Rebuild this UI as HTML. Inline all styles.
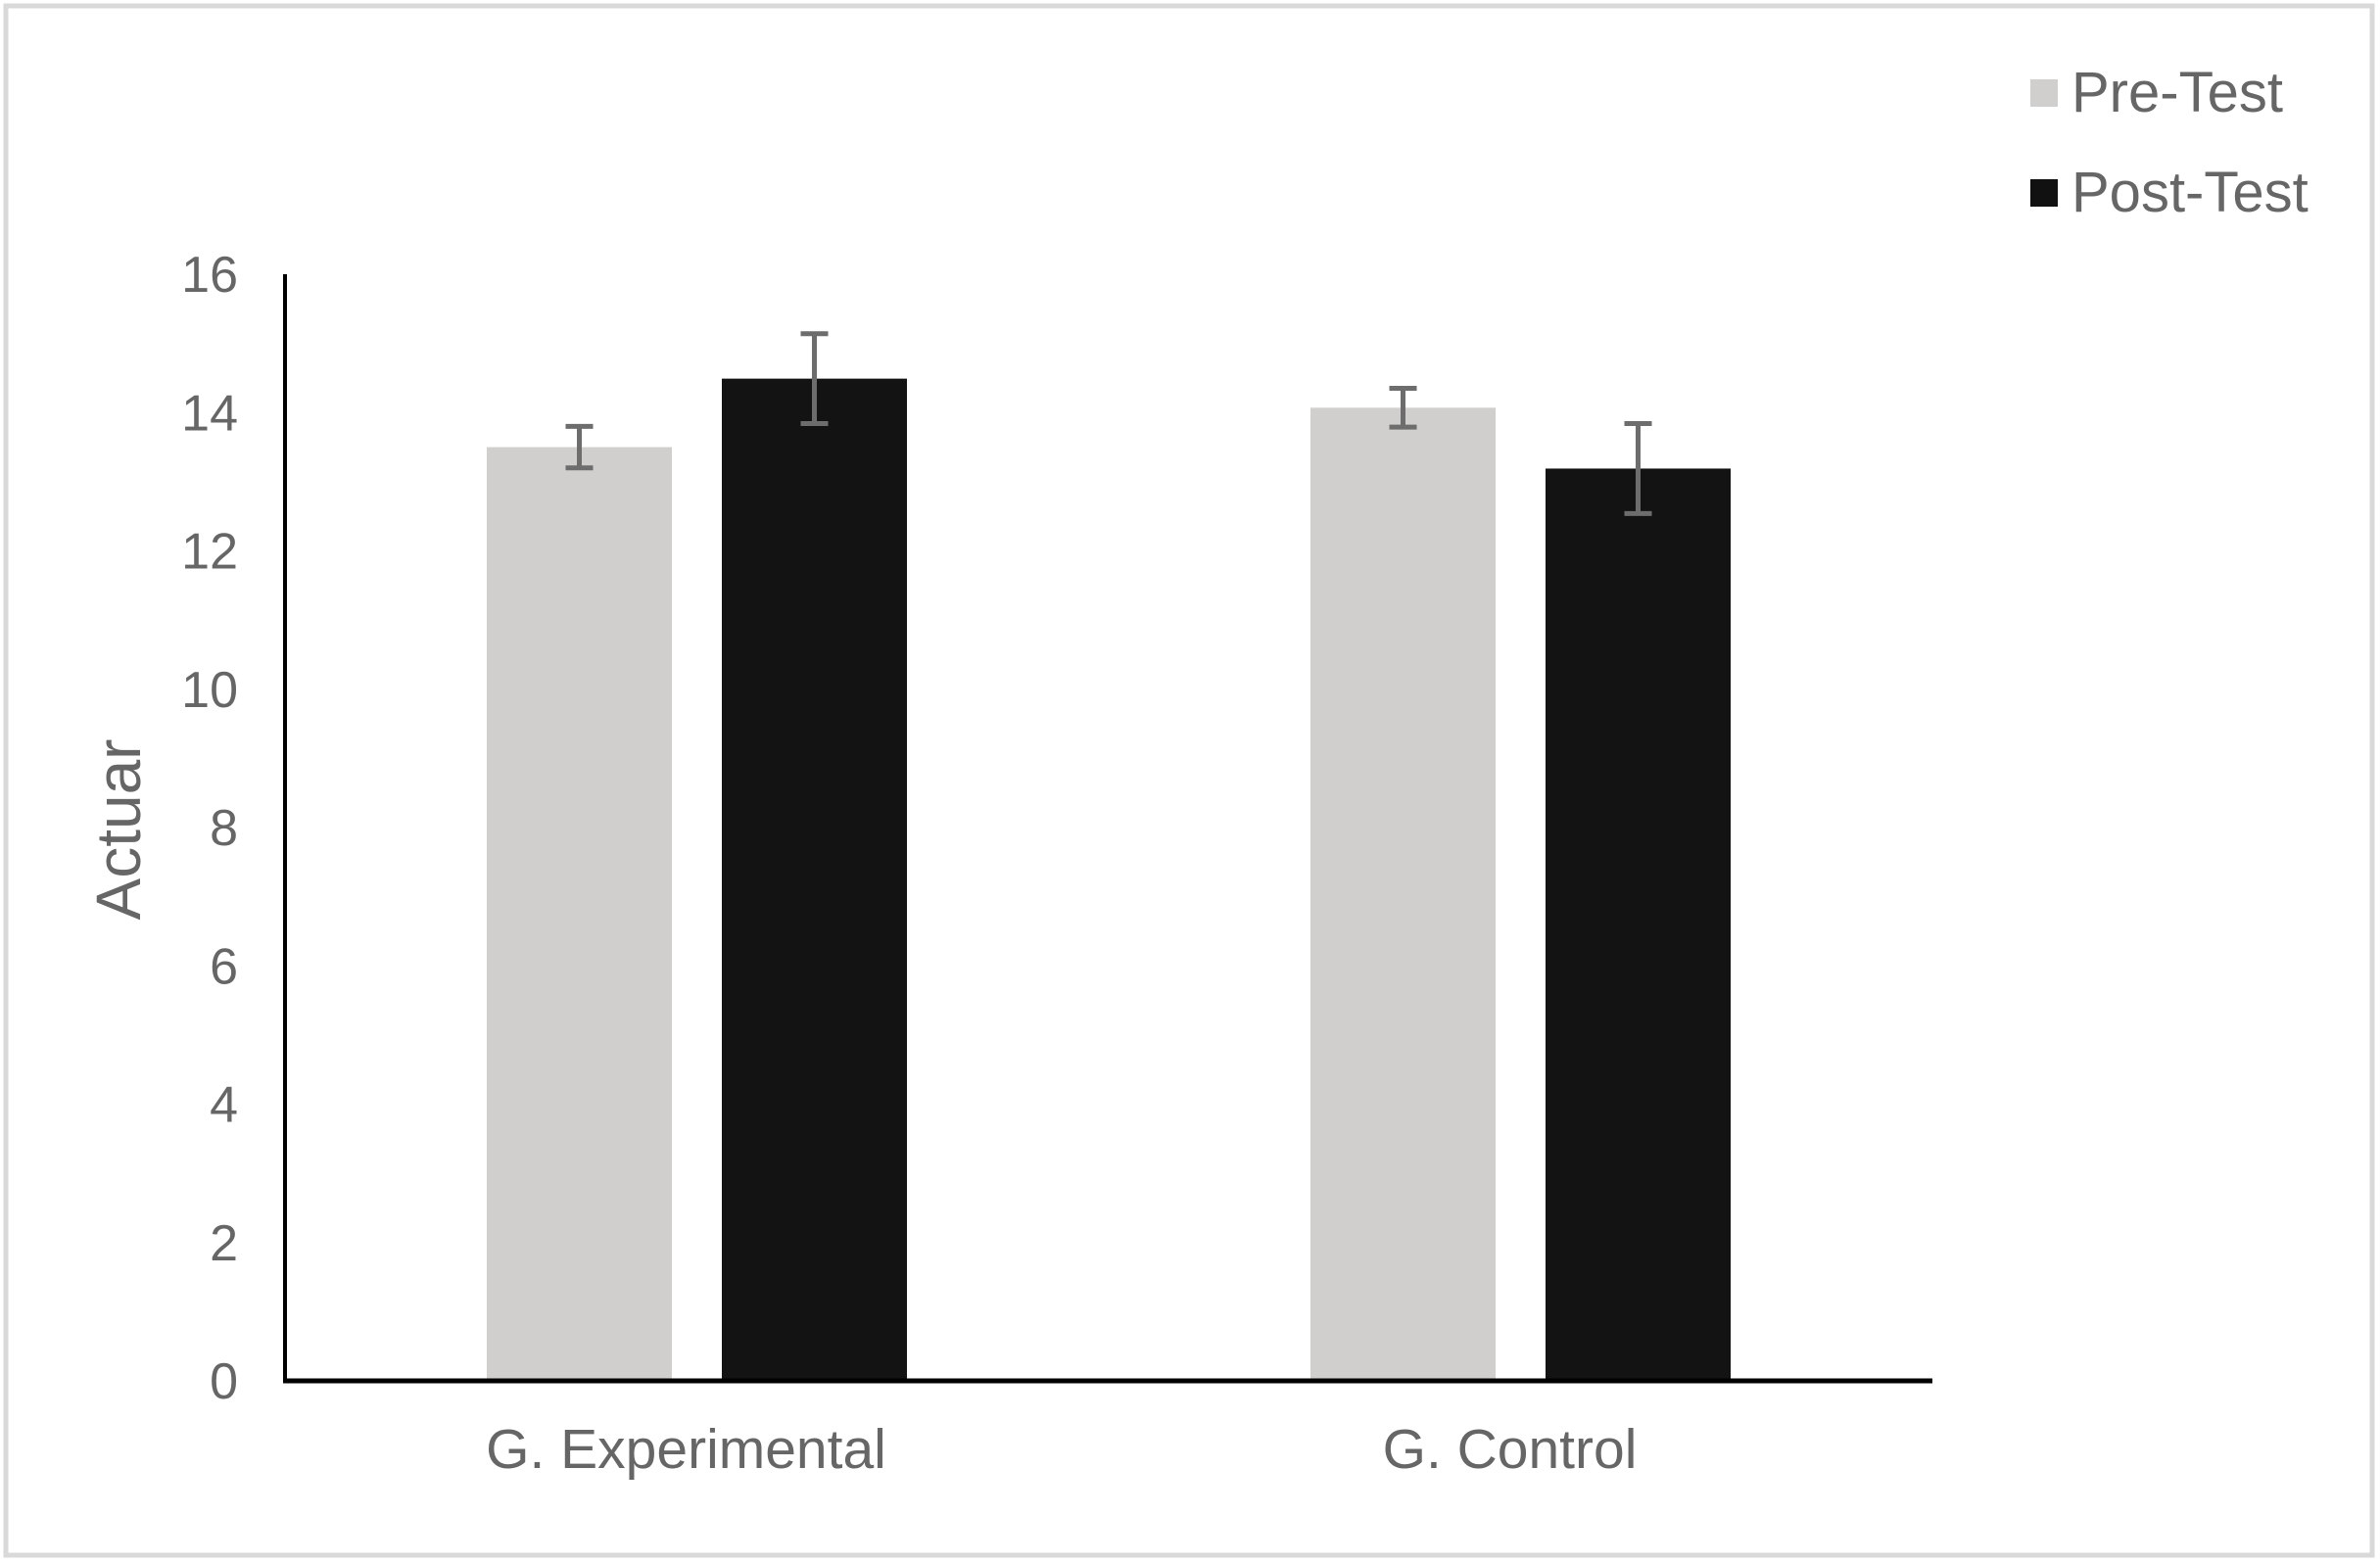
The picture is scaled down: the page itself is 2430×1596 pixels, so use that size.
<!DOCTYPE html>
<html><head><meta charset="utf-8"><style>
html,body{margin:0;padding:0;background:#fff;}
svg{display:block;font-family:"Liberation Sans",sans-serif;}
</style></head><body>
<svg id="chart" width="2430" height="1596" viewBox="0 0 2430 1596" xmlns="http://www.w3.org/2000/svg">
<rect x="6" y="6" width="2416" height="1582" fill="#fff" stroke="#d9d9d9" stroke-width="5"/>
<g id="plot"></g>
<text transform="translate(143,847) rotate(-90)" text-anchor="middle" font-size="64" fill="#666">Actuar</text>
<g>
<g>
<rect x="2073" y="81" width="28" height="28" fill="#d0cfcd"/>
<text x="2115" y="114" font-size="58" fill="#666">Pre-Test</text></g>
<g>
<rect x="2073" y="183" width="28" height="28" fill="#111"/>
<text x="2115" y="216" font-size="58" fill="#666">Post-Test</text></g>
</g>
</svg>
<script>
const categories = ["G. Experimental", "G. Control"];
const preValues = [13.5, 14.07];
const postValues = [14.49, 13.19];
const preErrors = [0.3, 0.28];
const postErrors = [0.65, 0.65];
const yTicks = [0, 2, 4, 6, 8, 10, 12, 14, 16];

const NS = "http://www.w3.org/2000/svg";
const g = document.getElementById("plot");
const X0 = 291, X1 = 1973, Y0 = 1410, Y1 = 280, YMAX = 16;
function y(v){ return Y0 - (v / YMAX) * (Y0 - Y1); }
const groupW = (X1 - X0) / categories.length;
function groupCenter(i){ return X0 + groupW * (i + 0.5); }
const barW = 189, gap = 51;
function mk(tag, attrs){ const e = document.createElementNS(NS, tag); for (const k in attrs) e.setAttribute(k, attrs[k]); g.appendChild(e); return e; }

yTicks.forEach(t => {
  const e = mk("text", {x: 243, y: y(t) + 18, "text-anchor": "end", "font-size": "52", fill: "#666"});
  e.textContent = t;
  
  
});

categories.forEach((c, i) => {
  const cx = groupCenter(i);
  const series = [[preValues[i], preErrors[i], "#d0cfcd", cx - gap/2 - barW, "pre"], [postValues[i], postErrors[i], "#131313", cx + gap/2, "post"]];
  series.forEach(s => {
    const [v, err, col, bx, nm] = s;
    const r = mk("rect", {x: bx, y: y(v), width: barW, height: Y0 - y(v), fill: col});
    
    
    const ex = bx + barW / 2;
    const eg = mk("g", {stroke: "#6d6d6d", "stroke-width": "5"});
    
    
    [[ex, y(v + err), ex, y(v - err)], [ex - 14, y(v + err), ex + 14, y(v + err)], [ex - 14, y(v - err), ex + 14, y(v - err)]].forEach(l => {
      const ln = document.createElementNS(NS, "line");
      ln.setAttribute("x1", l[0]); ln.setAttribute("y1", l[1]); ln.setAttribute("x2", l[2]); ln.setAttribute("y2", l[3]);
      eg.appendChild(ln);
    });
  });
  const t = mk("text", {x: cx - 11, y: 1499, "text-anchor": "middle", "font-size": "57", fill: "#666"});
  t.textContent = c;
  
  
});

const ya = mk("line", {x1: X0, y1: Y1, x2: X0, y2: Y0 + 2, stroke: "#000", "stroke-width": "4"});


const xa = mk("line", {x1: X0 - 2, y1: Y0, x2: X1, y2: Y0, stroke: "#000", "stroke-width": "5"});


</script>
</body></html>
